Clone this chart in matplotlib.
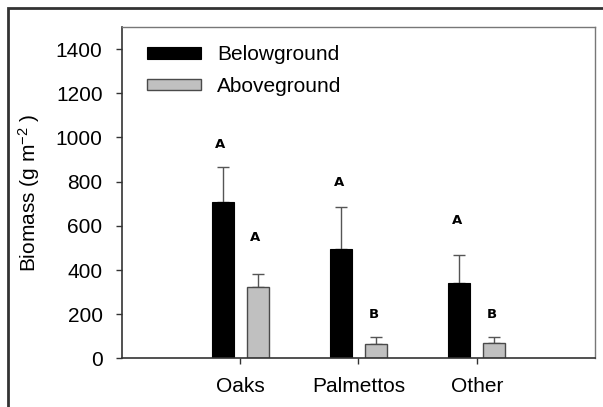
import matplotlib.pyplot as plt
import numpy as np
from matplotlib.patches import Rectangle

plt.rcParams['font.family'] = ['Liberation Sans', 'DejaVu Sans']
plt.rcParams['mathtext.fontset'] = 'custom'
plt.rcParams['mathtext.rm'] = 'Liberation Sans'
plt.rcParams['mathtext.it'] = 'Liberation Sans'
plt.rcParams['mathtext.default'] = 'regular'

# data
groups = ['Oaks', 'Palmettos', 'Other']
below = [710, 495, 340]
below_err = [157, 192, 127]
above = [325, 67, 69]
above_err = [58, 29, 30]
below_letters = ['A', 'A', 'A']
above_letters = ['A', 'B', 'B']
below_letter_y = [970, 796, 625]
above_letter_y = [546, 198, 198]

fs = 15

fig = plt.figure(figsize=(6.03, 4.07), dpi=100)
ax = fig.add_axes([0.2023, 0.1192, 0.7844, 0.8145])

x = np.arange(1, len(groups) + 1)
off = 0.148
w = 0.186

ax.bar(x - off, below, w, color='black', edgecolor='black', lw=0.8,
       label='Belowground', zorder=2)
ax.bar(x + off, above, w, color='#c0c0c0', edgecolor='#4a4a4a', lw=1.0,
       label='Aboveground', zorder=2)
ax.errorbar(x - off, below, yerr=[np.zeros(3), below_err], fmt='none',
            ecolor='#555555', elinewidth=1.0, capsize=4.5, capthick=1.0, zorder=1)
ax.errorbar(x + off, above, yerr=[np.zeros(3), above_err], fmt='none',
            ecolor='#555555', elinewidth=1.0, capsize=4.5, capthick=1.0, zorder=1)

for i in range(len(groups)):
    ax.text(x[i] - off - 0.02, below_letter_y[i], below_letters[i],
            ha='center', va='center', fontsize=9.5, fontweight='bold',
            family='DejaVu Sans')
    ax.text(x[i] + off - 0.02, above_letter_y[i], above_letters[i],
            ha='center', va='center', fontsize=9.5, fontweight='bold',
            family='DejaVu Sans')

ax.set_xlim(0, 4)
ax.set_ylim(0, 1500)
ax.set_yticks(range(0, 1401, 200))
ax.set_xticks(x)
ax.set_xticklabels(groups)
ax.tick_params(axis='both', labelsize=fs, length=4, width=1, color='#333333')
ax.tick_params(axis='x', pad=9)
ax.tick_params(axis='y', pad=10)

ax.set_ylabel('Biomass (g m$^{-2}$ )', fontsize=fs)
ax.yaxis.set_label_coords(-0.169, 0.5)

for s in ['left', 'bottom']:
    ax.spines[s].set_color('#333333')
    ax.spines[s].set_linewidth(1.2)
for s in ['top', 'right']:
    ax.spines[s].set_color('#777777')
    ax.spines[s].set_linewidth(1.0)

ax.legend(loc='upper left', bbox_to_anchor=(0.052, 0.945), frameon=False,
          fontsize=fs, handlelength=2.6, handleheight=0.48,
          handletextpad=0.77, labelspacing=0.6, borderpad=0,
          borderaxespad=0)

fig.add_artist(Rectangle((8 / 603, -0.1), 1.2, 1.1 - 8 / 407,
                         transform=fig.transFigure, fill=False,
                         edgecolor='#333333', lw=2, clip_on=False))

fig.savefig('out.png', dpi=100)
